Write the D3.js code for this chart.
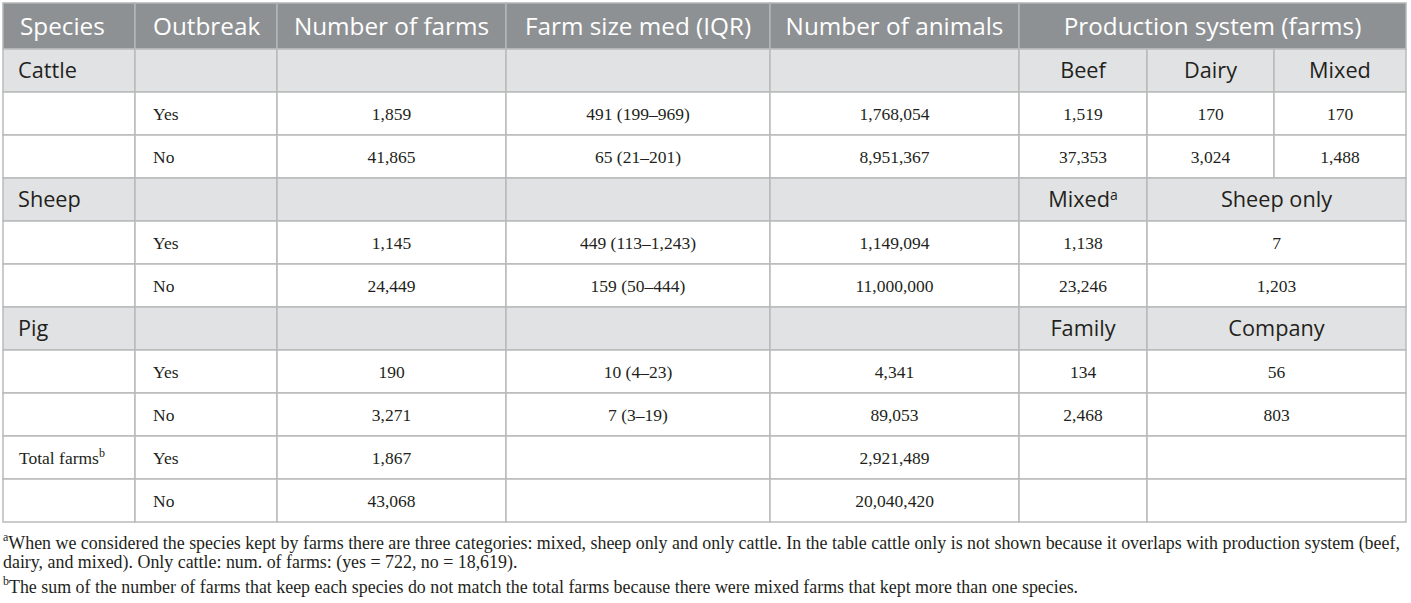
<!DOCTYPE html>
<html>
<head>
<meta charset="utf-8">
<script src="https://cdn.jsdelivr.net/npm/d3@7"></script>
<style>
  body { margin: 0; background: #fff; }
  svg { display: block; }
</style>
</head>
<body>
<div id="chart"></div>
<script>
// table contents
var headers = ["Species", "Outbreak", "Number of farms", "Farm size med (IQR)", "Number of animals", "Production system (farms)"];
var species = ["Cattle", "Sheep", "Pig"];
var outbreak = ["Yes", "No"];
var numFarms = [[1859, 41865], [1145, 24449], [190, 3271]];
var farmSize = [["491 (199–969)", "65 (21–201)"], ["449 (113–1,243)", "159 (50–444)"], ["10 (4–23)", "7 (3–19)"]];
var numAnimals = [[1768054, 8951367], [1149094, 11000000], [4341, 89053]];
// production system sub-categories per species
var prodCats = [["Beef", "Dairy", "Mixed"], ["Mixed", "Sheep only"], ["Family", "Company"]];
var prodSup = [["", "", ""], ["a", ""], ["", ""]];
var prodValues = [
  [[1519, 37353], [170, 3024], [170, 1488]],
  [[1138, 23246], [7, 1203]],
  [[134, 2468], [56, 803]]
];
var totalLabel = "Total farms";
var totalFarms = [1867, 43068];
var totalAnimals = [2921489, 20040420];
var footnotes = [
  {sup: "a", text: "When we considered the species kept by farms there are three categories: mixed, sheep only and only cattle. In the table cattle only is not shown because it overlaps with production system (beef,"},
  {sup: "", text: "dairy, and mixed). Only cattle: num. of farms: (yes = 722, no = 18,619)."},
  {sup: "b", text: "The sum of the number of farms that keep each species do not match the total farms because there were mixed farms that kept more than one species."}
];

var W = 1411, H = 603;
var fmt = d3.format(",");

// column edges (layout)
var colKeys = ["species", "outbreak", "farms", "size", "animals", "p1", "p2", "p3", "end"];
var x = d3.scaleOrdinal().domain(colKeys).range([3, 135, 277, 506, 770, 1019, 1147, 1274, 1406]);
var nextCol = function(k){ return colKeys[colKeys.indexOf(k) + 1]; };

var headTop = 3, headH = 46, rowH = 43;
var y = d3.scaleLinear().domain([0, 1]).range([headTop + headH, headTop + headH + rowH]);

var sans = "'Open Sans', 'Noto Sans', sans-serif";
var serif = "'Liberation Serif', 'DejaVu Serif', serif";

// build rows of cells
var rows = [];
species.forEach(function(sp, s){
  var cats = prodCats[s];
  var pcols = cats.length == 3 ? [["p1", "p2"], ["p2", "p3"], ["p3", "end"]] : [["p1", "p2"], ["p2", "end"]];
  var g = [
    {c0: "species", c1: "outbreak", text: sp, anchor: "start", dx: 15},
    {c0: "outbreak", c1: "farms", text: ""},
    {c0: "farms", c1: "size", text: ""},
    {c0: "size", c1: "animals", text: ""},
    {c0: "animals", c1: "p1", text: ""}
  ];
  cats.forEach(function(c, i){
    g.push({c0: pcols[i][0], c1: pcols[i][1], text: c, sup: prodSup[s][i]});
  });
  rows.push({kind: "group", cells: g});
  outbreak.forEach(function(o, j){
    var r = [
      {c0: "species", c1: "outbreak", text: ""},
      {c0: "outbreak", c1: "farms", text: o, anchor: "start", dx: 18},
      {c0: "farms", c1: "size", text: fmt(numFarms[s][j])},
      {c0: "size", c1: "animals", text: farmSize[s][j]},
      {c0: "animals", c1: "p1", text: fmt(numAnimals[s][j])}
    ];
    prodValues[s].forEach(function(v, i){
      r.push({c0: pcols[i][0], c1: pcols[i][1], text: fmt(v[j])});
    });
    rows.push({kind: "body", cells: r});
  });
});
outbreak.forEach(function(o, j){
  rows.push({kind: "body", cells: [
    {c0: "species", c1: "outbreak", text: j == 0 ? totalLabel : "", sup: j == 0 ? "b" : "", anchor: "start", dx: 16},
    {c0: "outbreak", c1: "farms", text: o, anchor: "start", dx: 18},
    {c0: "farms", c1: "size", text: fmt(totalFarms[j])},
    {c0: "size", c1: "animals", text: ""},
    {c0: "animals", c1: "p1", text: fmt(totalAnimals[j])},
    {c0: "p1", c1: "p2", text: ""},
    {c0: "p2", c1: "end", text: ""}
  ]});
});

var svg = d3.select("#chart").append("svg")
  .attr("width", W)
  .attr("height", H);

// header
var head = svg.append("g");
var headCells = headers.map(function(h, i){
  var c0 = colKeys[i];
  return {c0: c0, c1: i == headers.length - 1 ? "end" : nextCol(c0), text: h,
          anchor: i < 2 ? "start" : "middle", dx: i == 0 ? 17 : 18};
});
head.selectAll("rect").data(headCells).enter().append("rect")
  .attr("x", function(d){ return x(d.c0); })
  .attr("y", headTop)
  .attr("width", function(d){ return x(d.c1) - x(d.c0); })
  .attr("height", headH)
  .attr("fill", "#8e9193")
  .attr("stroke", "#b3b6b7")
  .attr("stroke-width", 1.5);
head.selectAll("text").data(headCells).enter().append("text")
  .attr("x", function(d){ return d.anchor == "start" ? x(d.c0) + d.dx : (x(d.c0) + x(d.c1)) / 2; })
  .attr("y", headTop + headH / 2)
  .attr("dy", "0.36em")
  .attr("text-anchor", function(d){ return d.anchor; })
  .attr("font-family", sans)
  .attr("font-size", 24.3)
  .attr("fill", "#ffffff")
  .text(function(d){ return d.text; });

// body rows
var rowG = svg.selectAll("g.row").data(rows).enter().append("g")
  .attr("class", "row")
  .attr("transform", function(d, i){ return "translate(0," + y(i) + ")"; });

rowG.each(function(row){
  var g = d3.select(this);
  g.selectAll("rect").data(row.cells).enter().append("rect")
    .attr("x", function(d){ return x(d.c0); })
    .attr("y", 0)
    .attr("width", function(d){ return x(d.c1) - x(d.c0); })
    .attr("height", rowH)
    .attr("fill", row.kind == "group" ? "#e1e2e3" : "#ffffff")
    .attr("stroke", "#b9bbbb")
    .attr("stroke-width", 1.5);

  var t = g.selectAll("text").data(row.cells.filter(function(d){ return d.text; })).enter().append("text")
    .attr("x", function(d){ return d.anchor == "start" ? x(d.c0) + d.dx : (x(d.c0) + x(d.c1)) / 2; })
    .attr("y", rowH / 2)
    .attr("dy", "0.36em")
    .attr("text-anchor", function(d){ return d.anchor || "middle"; })
    .attr("font-family", row.kind == "group" ? sans : serif)
    .attr("font-size", row.kind == "group" ? 21.7 : 17.5)
    .attr("fill", "#231f20");
  t.append("tspan").text(function(d){ return d.text; });
  t.filter(function(d){ return d.sup; }).append("tspan")
    .attr("dy", "-0.55em")
    .attr("font-size", row.kind == "group" ? 14 : 12)
    .text(function(d){ return d.sup; });
});

// footnotes
var fn = svg.append("g").selectAll("text").data(footnotes).enter().append("text")
  .attr("x", 3)
  .attr("y", function(d, i){ return 546 + i * 22; })
  .attr("font-family", serif)
  .attr("font-size", 17.9)
  .attr("fill", "#231f20");
fn.append("tspan")
  .attr("dy", "-0.45em")
  .attr("font-size", 12)
  .text(function(d){ return d.sup; });
fn.append("tspan")
  .attr("dy", function(d){ return d.sup ? "0.45em" : "0"; })
  .text(function(d){ return d.text; });
</script>
</body>
</html>
